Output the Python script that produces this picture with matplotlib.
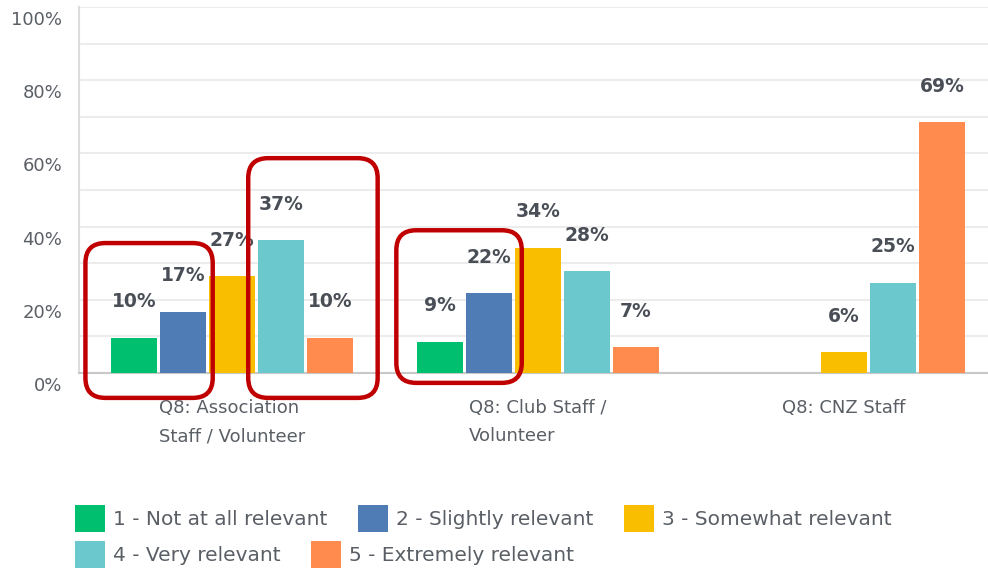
import matplotlib
matplotlib.use("Agg")
import matplotlib.pyplot as plt
import matplotlib.transforms as mtransforms
from matplotlib.patches import FancyBboxPatch, Patch
import numpy as np

plt.rcParams['font.family'] = ['DejaVu Sans']

groups = ["Q8: Association\nStaff / Volunteer", "Q8: Club Staff /\nVolunteer", "Q8: CNZ Staff"]
series = ["1 - Not at all relevant", "2 - Slightly relevant", "3 - Somewhat relevant",
          "4 - Very relevant", "5 - Extremely relevant"]
colors = ["#00bf6f", "#507cb6", "#f9be00", "#6bc8cd", "#ff8b4f"]
# percent per series, one value per group
values = [
    [10, 9, 0],
    [17, 22, 0],
    [27, 34, 6],
    [37, 28, 25],
    [10, 7, 69],
]
# exact heights (labels show rounded values)
heights = [
    [9.6, 8.6, 0],
    [16.7, 21.8, 0],
    [26.5, 34.2, 5.7],
    [36.3, 27.8, 24.6],
    [9.6, 7.0, 68.5],
]
yticks = [0, 20, 40, 60, 80, 100]

# red highlight boxes: (group, first series, last series)
highlights = [(0, 0, 1), (0, 3, 4), (1, 0, 1)]

fig = plt.figure(figsize=(9.88, 5.69), dpi=100)
ax = fig.add_axes([79 / 988, 196 / 569, 918 / 988, 366 / 569])

x = np.arange(len(groups))
pitch = 0.16
width = 0.148
text_col = "#4a4f57"
grey = "#5a5f66"

for i, (name, col) in enumerate(zip(series, colors)):
    pos = x + (i - 2) * pitch
    ax.bar(pos, heights[i], width=width, color=col, zorder=3)
    for p, h, v in zip(pos, heights[i], values[i]):
        if v == 0:
            continue
        ax.annotate(f"{v}%", (p, h), xytext=(0, 36), textcoords="offset pixels",
                    ha="center", va="center", fontsize=13.5, fontweight="bold", color=text_col)

ax.set_xlim(-0.5, 2.5)
ax.set_ylim(0, 100)
ax.set_yticks(yticks)
ax.set_yticks(range(10, 100, 20), minor=True)
ax.yaxis.grid(True, which="both", color="#ececec", linewidth=1.5, zorder=0)
ax.tick_params(axis="y", which="both", length=0, labelsize=13, labelcolor=grey, pad=12)
ax.set_yticklabels([f"{t}%" for t in yticks])
# labels in the source sit a bit below their gridlines
offset = mtransforms.ScaledTranslation(0, -11 / 100, fig.dpi_scale_trans)
for lab in ax.get_yticklabels():
    lab.set_transform(lab.get_transform() + offset)

ax.set_xticks(x)
ax.set_xticklabels(groups, fontsize=13, color=grey, multialignment="left", linespacing=1.7)
ax.tick_params(axis="x", length=0, pad=19)

for s in ["top", "right"]:
    ax.spines[s].set_visible(False)
ax.spines["left"].set_color("#dcdcdc")
ax.spines["left"].set_linewidth(1.5)
ax.spines["bottom"].set_color("#c8c8c8")
ax.spines["bottom"].set_linewidth(1.5)

# red rounded highlight boxes
box_tops = [35.5, 58.7, 39.0]
box_bottoms = [-6.8, -6.8, -2.7]
box_pads = [(0.085, 0.023), (0.033, 0.082), (0.069, 0.033)]
for (g, a, b), top, bot, (pl, pr) in zip(highlights, box_tops, box_bottoms, box_pads):
    left = x[g] + (a - 2) * pitch - width / 2 - pl
    right = x[g] + (b - 2) * pitch + width / 2 + pr
    fb = FancyBboxPatch((left, bot), right - left, top - bot,
                        boxstyle="round,pad=0,rounding_size=0.065", mutation_aspect=84,
                        fill=False, edgecolor="#c00000", linewidth=3.2,
                        transform=ax.transData, clip_on=False, zorder=6)
    ax.add_patch(fb)

handles = [Patch(facecolor=c, edgecolor="none") for c in colors]
kw = dict(frameon=False, fontsize=14.5, labelcolor=grey, handlelength=1.5, handleheight=1.7,
          handletextpad=0.4, columnspacing=1.5, borderaxespad=0, borderpad=0)
leg1 = fig.legend(handles[:3], series[:3], loc="upper left", bbox_to_anchor=(75 / 988, 1 - 505 / 569),
                  ncol=3, **kw)
leg2 = fig.legend(handles[3:], series[3:], loc="upper left", bbox_to_anchor=(75 / 988, 1 - 541 / 569),
                  ncol=2, **kw)

fig.savefig("out.png", dpi=100)
